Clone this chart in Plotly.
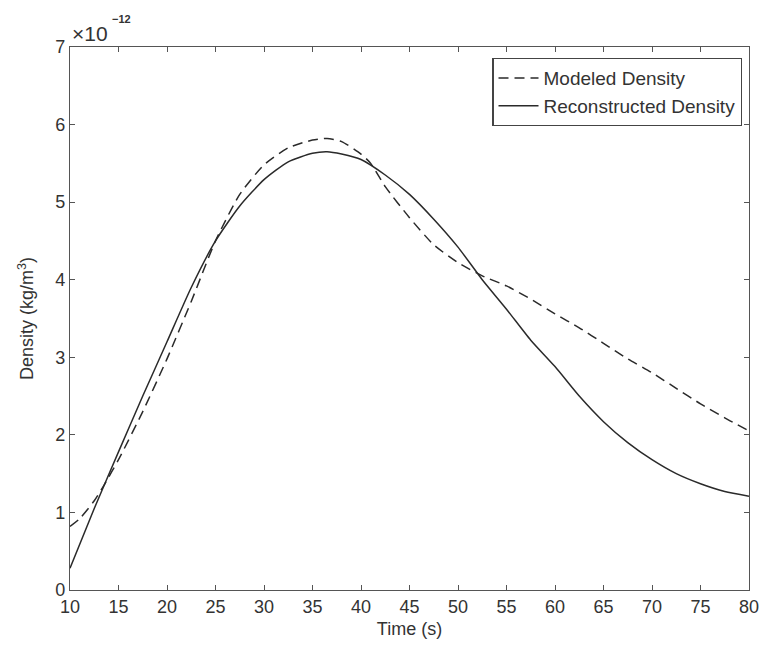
import plotly.graph_objects as go

# Time samples (s) and densities in units of 1e-12 kg/m^3
time_recon = [10, 12.5, 15, 17.5, 20, 22.5, 25, 27.5, 30, 32.5, 35, 36.5, 38, 40,
              42.5, 45, 47.5, 50, 52.5, 55, 57.5, 60, 62.5, 65, 67.5, 70, 72.5,
              75, 77.5, 80]
density_recon = [0.28, 1.05, 1.78, 2.5, 3.2, 3.9, 4.5, 4.95, 5.29, 5.52, 5.63,
                 5.65, 5.62, 5.55, 5.35, 5.1, 4.78, 4.42, 4.0, 3.62, 3.22, 2.88,
                 2.5, 2.17, 1.9, 1.68, 1.5, 1.37, 1.27, 1.21]

time_model = [10, 11, 12.5, 13.5, 15, 17.5, 20, 22.5, 25, 27.5, 30, 32.5, 35,
              36.5, 38, 40, 41, 42.5, 45, 47.5, 50, 52.5, 55, 57.5, 60, 62.5,
              65, 67.5, 70, 72.5, 75, 77.5, 80]
density_model = [0.82, 0.92, 1.15, 1.35, 1.68, 2.3, 2.98, 3.72, 4.5, 5.1, 5.48,
                 5.7, 5.8, 5.82, 5.78, 5.62, 5.5, 5.2, 4.8, 4.45, 4.22, 4.05,
                 3.92, 3.75, 3.56, 3.38, 3.18, 2.98, 2.8, 2.6, 2.4, 2.22, 2.05]

x_ticks = list(range(10, 81, 5))
y_ticks = list(range(0, 8))

FONT = "Liberation Sans, Arial, sans-serif"
INK = "#333333"

fig = go.Figure()
fig.add_trace(go.Scatter(
    x=time_model, y=density_model, mode="lines", name="Modeled Density",
    line=dict(color="#2a2a2a", width=1.5, dash="10px,6px", shape="spline", smoothing=0.6),
))
fig.add_trace(go.Scatter(
    x=time_recon, y=density_recon, mode="lines", name="Reconstructed Density",
    line=dict(color="#2a2a2a", width=1.5, shape="spline", smoothing=0.6),
))

axis_common = dict(
    showline=True, linecolor="#555555", linewidth=1.3, mirror="ticks",
    ticks="inside", ticklen=5, tickcolor="#555555", tickwidth=1,
    showgrid=False, zeroline=False,
    tickfont=dict(family=FONT, size=18, color=INK),
)

fig.update_layout(
    width=771, height=647,
    margin=dict(l=70, r=12, t=47, b=57),
    paper_bgcolor="white", plot_bgcolor="white",
    font=dict(family=FONT, color=INK),
    xaxis=dict(range=[10, 80], tickvals=x_ticks,
               title=dict(text="Time (s)", font=dict(size=18, family=FONT, color=INK), standoff=6),
               **axis_common),
    yaxis=dict(range=[0, 7], tickvals=y_ticks,
               title=dict(text="Density (kg/m<sup>3</sup>)", font=dict(size=18, family=FONT, color=INK), standoff=16),
               **axis_common),
    legend=dict(
        x=0.990, y=0.980, xanchor="right", yanchor="top",
        bordercolor="#444444", borderwidth=1.3, bgcolor="white",
        font=dict(family=FONT, size=19, color=INK),
        tracegroupgap=0, itemwidth=40,
    ),
    showlegend=True,
    annotations=[
        dict(text="×10", xref="paper", yref="paper", x=0, y=1.0,
             xanchor="left", yanchor="bottom", showarrow=False, yshift=0,
             font=dict(family=FONT, size=21, color=INK)),
        dict(text="<b>−12</b>", xref="paper", yref="paper", x=0, y=1.0,
             xanchor="left", yanchor="bottom", showarrow=False, xshift=40, yshift=20,
             font=dict(family=FONT, size=11, color=INK)),
    ],
)

fig.write_html("out.html")
